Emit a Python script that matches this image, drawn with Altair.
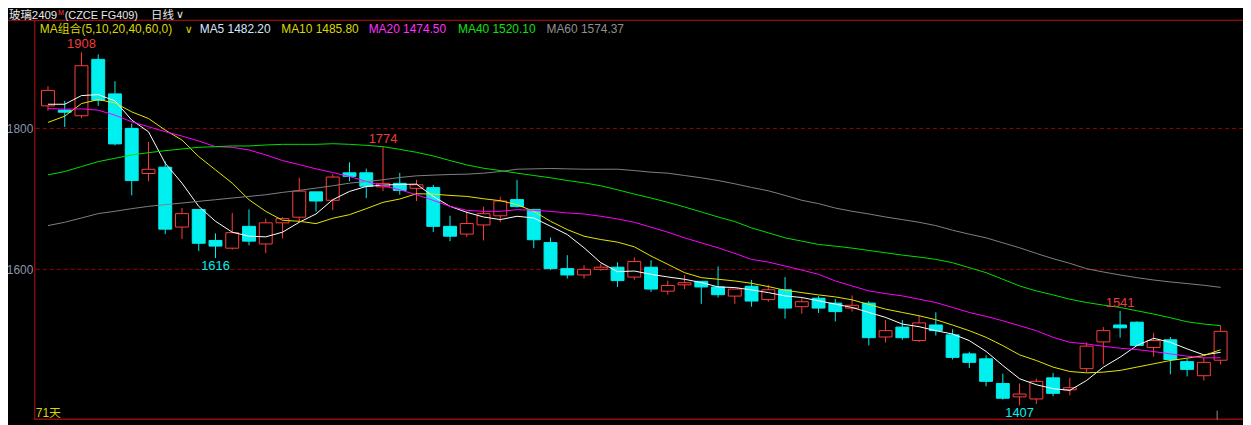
import altair as alt
import pandas as pd

# ---- daily candles (71 days) ----
opens = [1832, 1826, 1818, 1898, 1849, 1800, 1736, 1745, 1660, 1685,
         1641, 1630, 1661, 1636, 1666, 1674, 1710, 1698, 1737, 1737,
         1717, 1722, 1715, 1716, 1661, 1650, 1663, 1676, 1699, 1685,
         1638, 1601, 1592, 1600, 1603, 1589, 1603, 1569, 1578, 1583,
         1575, 1562, 1576, 1557, 1571, 1547, 1559, 1552, 1545, 1552,
         1504, 1518, 1499, 1521, 1507, 1480, 1473, 1438, 1419, 1416,
         1446, 1429, 1459, 1497, 1521, 1525, 1489, 1500, 1469, 1449, 1471]
highs = [1860, 1839, 1908, 1905, 1867, 1807, 1781, 1753, 1687, 1685,
         1651, 1680, 1685, 1672, 1674, 1730, 1710, 1735, 1752, 1743,
         1774, 1737, 1727, 1720, 1676, 1682, 1689, 1703, 1727, 1686,
         1645, 1620, 1606, 1608, 1610, 1617, 1613, 1584, 1592, 1583,
         1604, 1572, 1585, 1578, 1589, 1559, 1562, 1558, 1563, 1555,
         1528, 1528, 1534, 1539, 1515, 1483, 1478, 1452, 1438, 1445,
         1453, 1446, 1496, 1518, 1541, 1526, 1510, 1504, 1473, 1475, 1520]
lows = [1825, 1802, 1815, 1832, 1776, 1705, 1725, 1650, 1643, 1626,
        1616, 1628, 1634, 1623, 1644, 1667, 1682, 1684, 1725, 1701,
        1711, 1706, 1697, 1653, 1640, 1646, 1641, 1667, 1688, 1630,
        1599, 1587, 1587, 1598, 1575, 1585, 1568, 1564, 1572, 1551,
        1560, 1551, 1547, 1554, 1530, 1537, 1538, 1526, 1540, 1492,
        1496, 1500, 1497, 1506, 1472, 1460, 1434, 1415, 1407, 1409,
        1420, 1421, 1454, 1465, 1503, 1491, 1476, 1451, 1448, 1442, 1465]
closes = [1854, 1823, 1889, 1840, 1778, 1726, 1742, 1657, 1679, 1637,
          1633, 1652, 1640, 1666, 1672, 1711, 1697, 1731, 1732, 1718,
          1722, 1712, 1720, 1661, 1647, 1665, 1679, 1697, 1689, 1642,
          1601, 1592, 1600, 1603, 1584, 1611, 1572, 1577, 1581, 1575,
          1564, 1572, 1555, 1571, 1545, 1554, 1545, 1540, 1549, 1503,
          1513, 1503, 1524, 1513, 1475, 1468, 1441, 1417, 1423, 1441,
          1424, 1432, 1491, 1513, 1517, 1492, 1499, 1472, 1458, 1468, 1512]

# ---- moving averages ----
ma5 = [1834.3, 1834.3, 1846.6, 1848.0, 1839.1, 1811.8, 1795.3, 1750.6, 1722.3, 1689.4,
       1668.2, 1652.7, 1647.0, 1646.1, 1652.7, 1666.8, 1678.6, 1698.8, 1710.6, 1717.6,
       1719.5, 1720.5, 1720.9, 1703.5, 1689.4, 1680.9, 1674.3, 1670.6, 1675.3, 1672.9,
       1661.2, 1649.4, 1630.6, 1609.4, 1596.7, 1597.6, 1592.9, 1589.2, 1585.9, 1581.2,
       1575.1, 1574.1, 1570.8, 1567.0, 1562.3, 1560.0, 1555.3, 1550.6, 1545.9, 1538.8,
       1531.8, 1522.3, 1518.6, 1512.9, 1508.2, 1498.8, 1483.5, 1463.5, 1444.7, 1436.2,
       1430.6, 1428.2, 1442.3, 1461.2, 1475.3, 1491.8, 1502.1, 1496.5, 1487.1, 1478.6, 1482.2]
ma10 = [1808.5, 1817.4, 1835.3, 1840.9, 1836.2, 1823.5, 1814.1, 1797.6, 1783.5, 1760.0,
        1741.2, 1722.3, 1698.8, 1682.3, 1669.6, 1668.2, 1664.9, 1672.5, 1677.6, 1686.1,
        1695.1, 1699.8, 1707.3, 1706.8, 1704.9, 1703.5, 1700.2, 1697.4, 1691.8, 1682.3,
        1668.2, 1656.4, 1647.0, 1642.3, 1638.6, 1632.0, 1618.8, 1607.1, 1595.3, 1588.2,
        1585.9, 1583.5, 1580.2, 1575.5, 1570.3, 1567.0, 1563.7, 1560.9, 1556.7, 1550.1,
        1543.5, 1538.8, 1534.1, 1528.5, 1520.9, 1512.9, 1503.5, 1491.7, 1478.6, 1470.6,
        1461.2, 1455.0, 1453.1, 1454.1, 1456.5, 1461.2, 1465.9, 1470.6, 1473.9, 1477.6, 1485.8]
ma20 = [1828.2, 1827.3, 1827.8, 1825.9, 1818.8, 1809.4, 1802.4, 1795.3, 1789.2, 1782.1,
        1774.1, 1773.2, 1769.4, 1762.4, 1754.4, 1748.7, 1742.6, 1737.4, 1731.8, 1724.7,
        1718.6, 1712.9, 1705.9, 1697.9, 1689.4, 1683.8, 1682.3, 1682.3, 1684.7, 1683.8,
        1682.3, 1680.0, 1678.6, 1675.3, 1671.5, 1666.8, 1659.8, 1652.7, 1644.7, 1637.6,
        1630.6, 1622.6, 1614.1, 1610.3, 1604.7, 1599.0, 1592.9, 1583.5, 1576.4, 1569.4,
        1565.6, 1562.3, 1557.6, 1552.9, 1545.9, 1538.8, 1533.2, 1527.0, 1520.0, 1512.9,
        1503.5, 1496.5, 1494.1, 1490.8, 1488.0, 1486.1, 1483.3, 1480.0, 1476.7, 1474.3, 1474.5]
ma40 = [1734.1, 1738.8, 1745.9, 1752.9, 1757.6, 1762.3, 1765.6, 1768.4, 1770.8, 1773.2,
        1774.1, 1775.1, 1775.1, 1776.5, 1777.4, 1777.4, 1777.4, 1778.3, 1777.4, 1776.0,
        1774.1, 1770.3, 1766.1, 1760.9, 1754.4, 1748.2, 1743.5, 1740.2, 1736.5, 1733.2,
        1729.9, 1726.1, 1722.8, 1718.6, 1712.9, 1706.8, 1701.2, 1695.1, 1688.5, 1681.4,
        1674.3, 1667.8, 1658.8, 1651.8, 1644.7, 1640.0, 1635.3, 1632.9, 1630.1, 1626.8,
        1623.5, 1620.2, 1617.4, 1614.1, 1609.4, 1602.3, 1595.3, 1585.9, 1576.4, 1569.4,
        1563.7, 1557.6, 1552.9, 1549.2, 1545.9, 1541.2, 1536.5, 1531.3, 1525.6, 1522.3, 1520.1]
ma60 = [1662.1, 1666.8, 1672.9, 1679.1, 1682.4, 1686.1, 1689.4, 1691.8, 1694.1, 1696.5,
        1698.8, 1701.2, 1703.5, 1705.9, 1709.2, 1712.0, 1715.3, 1718.6, 1722.3, 1724.7,
        1727.1, 1730.4, 1732.7, 1733.7, 1734.6, 1735.1, 1736.5, 1738.8, 1742.1, 1742.6,
        1743.1, 1742.6, 1742.1, 1742.1, 1742.1, 1740.2, 1737.9, 1736.5, 1733.2, 1729.9,
        1726.1, 1721.4, 1716.2, 1711.5, 1704.9, 1698.0, 1693.2, 1687.0, 1682.4, 1678.6,
        1674.3, 1670.6, 1666.8, 1662.1, 1655.5, 1649.9, 1644.7, 1637.6, 1630.6, 1622.6,
        1615.1, 1608.5, 1600.9, 1596.2, 1592.0, 1588.2, 1584.9, 1582.1, 1579.8, 1577.4, 1574.4]

ma_names = ["MA5", "MA10", "MA20", "MA40", "MA60"]
ma_colors = ["#ffffff", "#e6e600", "#ff00ff", "#00e000", "#808080"]

grid_prices = [1600, 1800]
peak_days = [3, 21, 65]
peak_prices = [1908, 1774, 1541]
trough_days = [11, 59]
trough_prices = [1616, 1407]

# ---- tables ----
n = len(opens)
idx = list(range(1, n + 1))
candles = pd.DataFrame({"i": idx, "open": opens, "high": highs, "low": lows, "close": closes})
candles["up"] = [c >= o for o, c in zip(opens, closes)]

ma_df = pd.concat([
    pd.DataFrame({"i": idx, "v": vals, "ma": name})
    for name, vals in zip(ma_names, [ma5, ma10, ma20, ma40, ma60])
])
peaks = pd.DataFrame({"i": peak_days, "p": peak_prices})
troughs = pd.DataFrame({"i": trough_days, "p": trough_prices})
grid = pd.DataFrame({"p": grid_prices})
one = pd.DataFrame({"a": [0]})

RED = "#ff3c3c"
CYAN = "#00f0f0"
FRAME = "#c01010"
YELLOW = "#d8d800"
FONT = "Liberation Sans, Noto Sans CJK SC"
W, H = 1216, 402

XS = alt.Scale(domain=[0.512, 72.04], nice=False, zero=False)
YS = alt.Scale(domain=[1386.6, 1953.5], nice=False, zero=False)
AX = alt.Axis(values=grid_prices, format="d", grid=False, domain=False, ticks=False,
              labelColor="#8a96a8", labelFont="Liberation Sans", labelFontSize=12,
              labelPadding=2, title=None)


def X():
    return alt.X("i:Q", scale=XS, axis=None)


def Y(field):
    return alt.Y(field, scale=YS, axis=AX, title=None)


base = alt.Chart(candles)

grid_layer = alt.Chart(grid).mark_rule(color="#a00000", strokeDash=[4, 3], strokeWidth=1).encode(
    y=Y("p:Q"))

wick_up = base.transform_filter("datum.up").mark_rule(color=RED, strokeWidth=1).encode(
    x=X(), y=Y("low:Q"), y2="high:Q")
wick_dn = base.transform_filter("!datum.up").mark_rule(color=CYAN, strokeWidth=1).encode(
    x=X(), y=Y("low:Q"), y2="high:Q")
body_up = base.transform_filter("datum.up").mark_bar(
    size=13, fill="#000000", stroke=RED, strokeWidth=1).encode(
    x=X(), y=Y("open:Q"), y2="close:Q")
body_dn = base.transform_filter("!datum.up").mark_bar(
    size=13, fill=CYAN, stroke=CYAN, strokeWidth=1).encode(
    x=X(), y=Y("open:Q"), y2="close:Q")

ma_layer = alt.Chart(ma_df).mark_line(strokeWidth=1).encode(
    x=X(), y=Y("v:Q"),
    color=alt.Color("ma:N", scale=alt.Scale(domain=ma_names, range=ma_colors), legend=None),
    detail="ma:N")

peak_txt = alt.Chart(peaks).mark_text(color="#f03a3a", font=FONT, fontSize=13,
                                       baseline="bottom", dy=-1).encode(
    x=X(), y=Y("p:Q"), text=alt.Text("p:Q", format="d"))
trough_txt = alt.Chart(troughs).mark_text(color=CYAN, font=FONT, fontSize=13,
                                           baseline="top", dy=2).encode(
    x=X(), y=Y("p:Q"), text=alt.Text("p:Q", format="d"))

# frame lines
top_line = alt.Chart(one).mark_rule(color=FRAME, strokeWidth=1).encode(
    x=alt.value(-27), x2=alt.value(W), y=alt.value(0))
left_line = alt.Chart(one).mark_rule(color=FRAME, strokeWidth=1).encode(
    x=alt.value(0), y=alt.value(0), y2=alt.value(H))
bottom_line = alt.Chart(one).mark_rule(color="#e01010", strokeWidth=1).encode(
    x=alt.value(0), x2=alt.value(W), y=alt.value(H - 0.5))
cursor_tick = alt.Chart(one).mark_rule(color="#909090", strokeWidth=1).encode(
    x=alt.value(1190), y=alt.value(H - 9), y2=alt.value(H))


def label(text, x, y, color, size=12, baseline="alphabetic", font=FONT):
    return alt.Chart(one).mark_text(text=text, align="left", baseline=baseline, color=color,
                                    fontSize=size, font=font).encode(
        x=alt.value(x), y=alt.value(y))


texts = [
    label("玻璃2409", -26, -1.5, "#e8e8e8", size=11.5),
    label("M", 23.5, -5, RED, size=7),
    label("(CZCE FG409)", 30, -1.5, "#e8e8e8", size=11),
    label("日线", 117, -1.5, "#e8e8e8", size=11.5),
    label("∨", 142, -2, "#e8e8e8", size=11, font="DejaVu Sans"),
    label("MA组合(5,10,20,40,60,0)", 5, 13, YELLOW),
    label("∨", 151, 13, YELLOW, size=11, font="DejaVu Sans"),
    label("MA5 1482.20", 166, 13, "#d6e6ff"),
    label("MA10 1485.80", 248, 13, YELLOW),
    label("MA20 1474.50", 336, 13, "#ff30ff"),
    label("MA40 1520.10", 426, 13, "#10e010"),
    label("MA60 1574.37", 515, 13, "#909090"),
    label("71天", 1, 399, YELLOW),
]

chart = alt.layer(
    grid_layer, wick_up, wick_dn, body_up, body_dn, ma_layer, peak_txt, trough_txt,
    top_line, left_line, bottom_line, cursor_tick, *texts
).properties(
    width=W, height=H,
    autosize=alt.AutoSizeParams(type="none"),
    padding={"left": 27, "top": 11, "right": 0, "bottom": 4},
).configure(background="#000000").configure_view(stroke=None)

chart.save("out.html", embed_options={"renderer": "svg", "actions": False})
